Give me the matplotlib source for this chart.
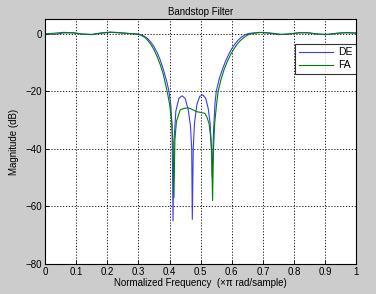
import matplotlib
matplotlib.use("Agg")
import matplotlib.pyplot as plt

plt.rcParams['font.family'] = ['Liberation Sans', 'DejaVu Sans']

# DE response
de_freq = [0.0, 0.03, 0.06, 0.09, 0.12, 0.15, 0.18, 0.21, 0.24, 0.27, 0.29, 0.30,
           0.31, 0.32, 0.33, 0.34, 0.35, 0.36, 0.37, 0.38, 0.39, 0.398, 0.404, 0.408,
           0.411, 0.414, 0.42, 0.43, 0.44, 0.45, 0.46, 0.467, 0.471, 0.473, 0.476, 0.48,
           0.488, 0.497, 0.507, 0.516, 0.524, 0.53, 0.534, 0.537, 0.541, 0.546, 0.55,
           0.56, 0.57, 0.58, 0.59, 0.60, 0.61, 0.62, 0.63, 0.64, 0.65, 0.66, 0.69, 0.72,
           0.75, 0.78, 0.81, 0.84, 0.87, 0.90, 0.93, 0.96, 1.0]
de_db = [0.0, -0.3, 0.2, 0.3, -0.2, -0.4, 0.1, 0.4, 0.2, 0.0, -0.1, -0.2,
         -0.5, -1.0, -1.8, -3.0, -4.6, -6.6, -9.2, -12.5, -16.3, -20.0, -25.0, -32.0,
         -65.0, -38.0, -27.0, -22.5, -21.6, -22.5, -26.5, -32.0, -40.0, -64.5, -40.0, -31.0,
         -24.5, -21.8, -21.3, -22.5, -26.0, -31.0, -39.0, -50.0, -34.0, -24.0, -20.0,
         -15.5, -12.3, -9.5, -7.2, -5.2, -3.6, -2.3, -1.3, -0.6, -0.1, 0.1, 0.4, 0.1,
         -0.4, -0.2, 0.2, 0.3, -0.2, -0.4, 0.0, 0.3, 0.1]

# FA response
fa_freq = [0.0, 0.03, 0.06, 0.09, 0.12, 0.15, 0.18, 0.21, 0.24, 0.27, 0.29, 0.30,
           0.31, 0.32, 0.33, 0.34, 0.35, 0.36, 0.37, 0.38, 0.392, 0.40, 0.406, 0.411,
           0.414, 0.417, 0.422, 0.434, 0.446, 0.46, 0.472, 0.486, 0.50, 0.513, 0.52,
           0.527, 0.532, 0.535, 0.538, 0.541, 0.545, 0.55, 0.556, 0.565, 0.575, 0.585,
           0.595, 0.605, 0.615, 0.625, 0.635, 0.645, 0.655, 0.67, 0.70, 0.73,
           0.76, 0.79, 0.82, 0.85, 0.88, 0.91, 0.94, 0.97, 1.0]
fa_db = [-0.2, 0.1, 0.4, 0.2, -0.2, -0.3, 0.2, 0.5, 0.3, 0.0, -0.2, -0.3,
         -0.7, -1.3, -2.4, -3.8, -5.6, -8.0, -10.8, -14.2, -20.0, -24.5, -30.0, -38.0,
         -57.0, -37.0, -30.5, -26.5, -26.0, -25.8, -26.3, -27.1, -27.4, -27.7, -29.0,
         -31.4, -36.0, -41.0, -58.0, -40.0, -31.0, -25.5, -20.0, -16.0, -12.5, -9.8,
         -7.5, -5.6, -4.0, -2.7, -1.7, -0.9, -0.3, 0.1, 0.4, 0.1,
         -0.3, -0.1, 0.3, 0.2, -0.2, -0.3, 0.1, 0.3, 0.2]

x_ticks = [0, 0.1, 0.2, 0.3, 0.4, 0.5, 0.6, 0.7, 0.8, 0.9, 1]
x_labels = ['0', '0.1', '0.2', '0.3', '0.4', '0.5', '0.6', '0.7', '0.8', '0.9', '1']
y_ticks = [-80, -60, -40, -20, 0]

fig = plt.figure(figsize=(3.76, 2.94), dpi=100, facecolor='#cccccc')
ax = fig.add_axes([0.1197, 0.102, 0.8283, 0.833])
ax.plot(de_freq, de_db, color='#3a3aff', lw=0.8, label='DE')
ax.plot(fa_freq, fa_db, color='#008000', lw=0.8, label='FA')

ax.set_xlim(0, 1)
ax.set_ylim(-80, 5)
ax.set_xticks(x_ticks)
ax.set_xticklabels(x_labels)
ax.set_yticks(y_ticks)
ax.tick_params(direction='in', labelsize=7, length=3, width=0.6, pad=2)
ax.grid(True, color='black', linestyle=(0, (1.5, 2)), linewidth=0.6)
for s in ax.spines.values():
    s.set_linewidth(0.8)

ax.set_title('Bandstop Filter', fontsize=7, pad=3)
ax.set_xlabel('Normalized Frequency  (\u00d7\u03c0 rad/sample)', fontsize=7, labelpad=1)
ax.set_ylabel('Magnitude (dB)', fontsize=7, labelpad=5)

leg = ax.legend(loc='upper right', bbox_to_anchor=(1.0, 0.9), fontsize=7.5,
                frameon=True, fancybox=False, handlelength=3.3, borderaxespad=0,
                handletextpad=0.5, borderpad=0.35, labelspacing=0.3)
leg.get_frame().set_edgecolor('black')
leg.get_frame().set_linewidth(0.8)

fig.savefig('out.png', dpi=100, facecolor=fig.get_facecolor())
